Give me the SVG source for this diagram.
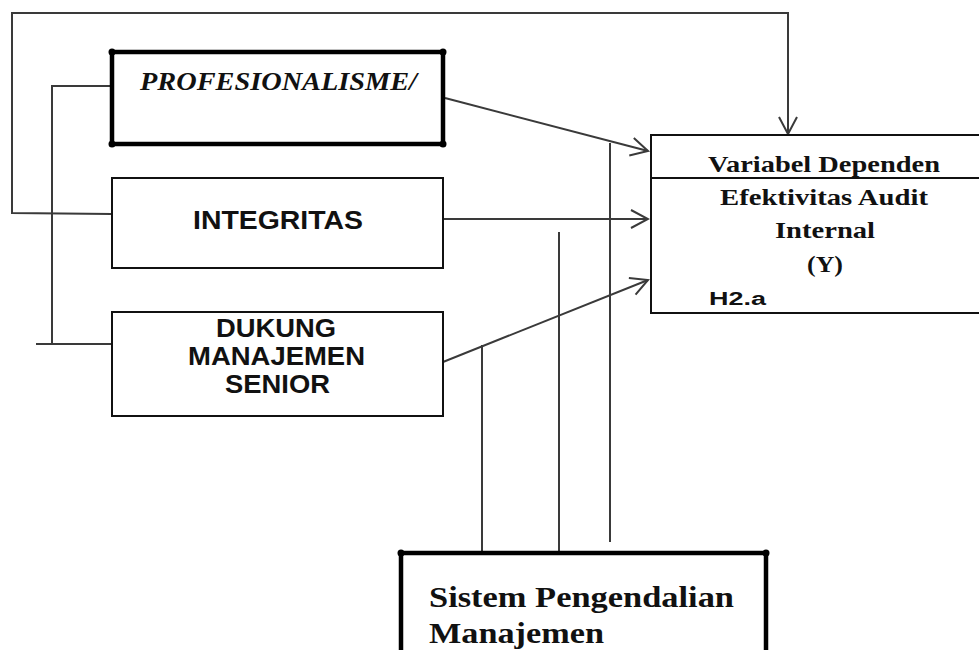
<svg xmlns="http://www.w3.org/2000/svg" width="979" height="650" viewBox="0 0 979 650">
  <style>
    .box { fill: #fff; stroke: #111; stroke-width: 2; }
    .thick { fill: #fff; stroke: #000; stroke-width: 4.5; }
    .conn { fill: none; stroke: #3a3a3a; stroke-width: 2; }
    .sans { font-family: "Liberation Sans", Arial, sans-serif; font-weight: bold; fill: #111; }
    .serif { font-family: "Liberation Serif", "Times New Roman", serif; font-weight: bold; fill: #111; }
  </style>
  <defs>
    <marker id="arr" markerUnits="userSpaceOnUse" markerWidth="24" markerHeight="24" viewBox="0 0 24 24" refX="22" refY="12" orient="auto">
      <path d="M5,3 L22,12 L5,21" fill="none" stroke="#3a3a3a" stroke-width="2"/>
    </marker>
  </defs>
  <rect width="979" height="650" fill="#fff"/>

  <g id="connectors">
    <path class="conn" d="M112,214 L12,213 L12,13 L788,13 L788,134" marker-end="url(#arr)"/>
    <path class="conn" d="M112,86 L52,86 L52,344"/>
    <path class="conn" d="M36,344 L112,344"/>
    <path class="conn" d="M445,98 L648,151" marker-end="url(#arr)"/>
    <path class="conn" d="M431,219 L648,219" marker-end="url(#arr)"/>
    <path class="conn" d="M443,362 L648,280" marker-end="url(#arr)"/>
    <path class="conn" d="M610,143 L610,542"/>
    <path class="conn" d="M559,232 L559,553"/>
    <path class="conn" d="M482,345 L482,553"/>
  </g>

  <g id="profesionalisme">
    <rect class="thick" x="112" y="52" width="331" height="92"/>
    <circle cx="112" cy="52" r="3.5"/>
    <circle cx="443" cy="52" r="3.5"/>
    <circle cx="112" cy="144" r="3.5"/>
    <circle cx="443" cy="144" r="3.5"/>
    <text class="serif" font-style="italic" font-size="26" x="140" y="90" textLength="277" lengthAdjust="spacingAndGlyphs">PROFESIONALISME/</text>
  </g>

  <g id="integritas">
    <rect class="box" x="112" y="178" width="331" height="90"/>
    <text class="sans" font-size="25" x="193" y="229" textLength="170" lengthAdjust="spacingAndGlyphs">INTEGRITAS</text>
  </g>

  <g id="dukung">
    <rect class="box" x="112" y="312" width="331" height="104"/>
    <text class="sans" font-size="25" x="216" y="337" textLength="120" lengthAdjust="spacingAndGlyphs">DUKUNG</text>
    <text class="sans" font-size="25" x="188" y="365" textLength="177" lengthAdjust="spacingAndGlyphs">MANAJEMEN</text>
    <text class="sans" font-size="25" x="225" y="393" textLength="105" lengthAdjust="spacingAndGlyphs">SENIOR</text>
  </g>

  <g id="variabel">
    <rect class="box" x="651" y="135" width="340" height="178"/>
    <line x1="651" y1="178" x2="979" y2="178" stroke="#111" stroke-width="2"/>
    <text class="serif" font-size="24" x="708" y="172" textLength="232" lengthAdjust="spacingAndGlyphs">Variabel Dependen</text>
    <text class="serif" font-size="24" x="720" y="205" textLength="208" lengthAdjust="spacingAndGlyphs">Efektivitas Audit</text>
    <text class="serif" font-size="24" x="775" y="238" textLength="100" lengthAdjust="spacingAndGlyphs">Internal</text>
    <text class="serif" font-size="24" x="807" y="272" textLength="36" lengthAdjust="spacingAndGlyphs">(Y)</text>
    <text class="sans" font-size="18" x="709" y="305" textLength="57" lengthAdjust="spacingAndGlyphs">H2.a</text>
  </g>

  <g id="sistem">
    <rect class="thick" x="401" y="553" width="365" height="120"/>
    <circle cx="401" cy="553" r="3.5"/>
    <circle cx="766" cy="553" r="3.5"/>
    <text class="serif" font-size="29" x="429" y="607" textLength="305" lengthAdjust="spacingAndGlyphs">Sistem Pengendalian</text>
    <text class="serif" font-size="29" x="429" y="643" textLength="175" lengthAdjust="spacingAndGlyphs">Manajemen</text>
  </g>
</svg>
